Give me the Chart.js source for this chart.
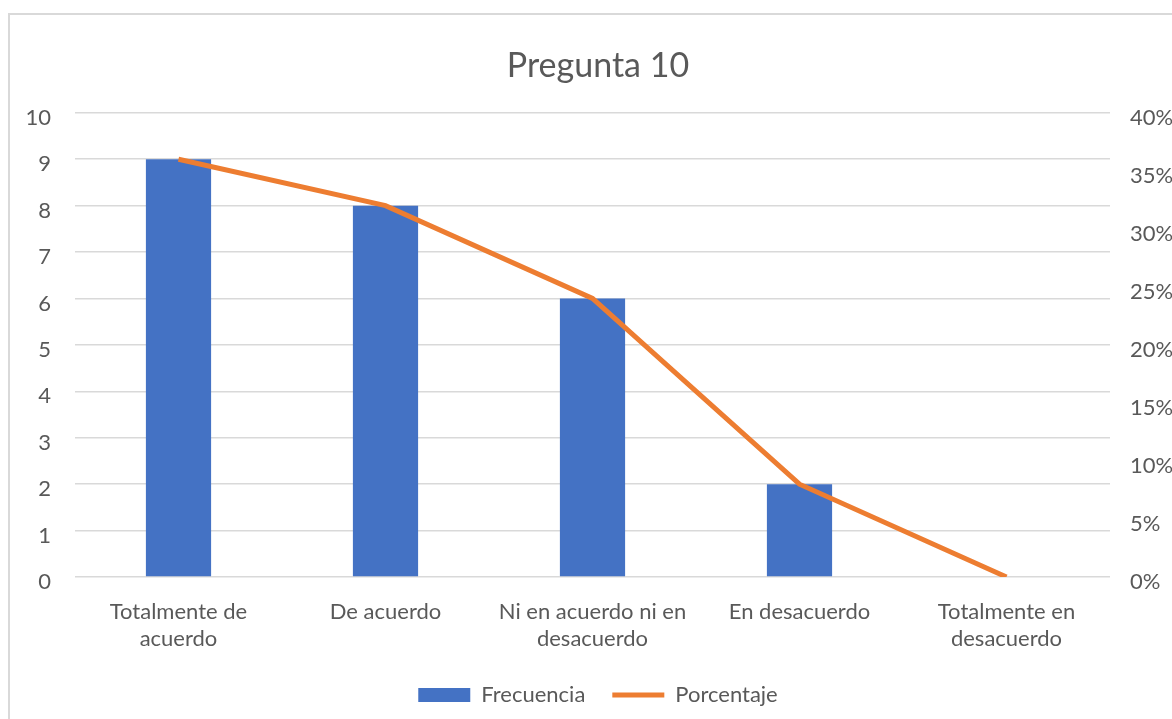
<!DOCTYPE html>
<html>
<head>
<meta charset="utf-8">
<script src="https://cdn.jsdelivr.net/npm/chart.js@4.4.1/dist/chart.umd.min.js"></script>
<style>
  html, body { margin: 0; padding: 0; background: #ffffff; }
  #wrap { position: relative; width: 1172px; height: 719px; overflow: hidden; }
  #frame { position: absolute; left: 8px; top: 13px; width: 1200px; height: 800px;
           border-left: 2px solid #d9d9d9; border-top: 2px solid #d9d9d9; box-sizing: border-box; }
  #c { position: absolute; left: 0; top: 0; }
</style>
</head>
<body>
<div id="wrap">
  <div id="frame"></div>
  <canvas id="c" width="1172" height="719"></canvas>
</div>
<script>
// Survey answers for question 10
const categories = [
  ["Totalmente de", "acuerdo"],
  ["De acuerdo"],
  ["Ni en acuerdo ni en", "desacuerdo"],
  ["En desacuerdo"],
  ["Totalmente en", "desacuerdo"]
];
const frecuencia = [9, 8, 6, 2, 0];
const porcentaje = [36, 32, 24, 8, 0];   // share of 25 answers, in %
const countTicks = [0, 1, 2, 3, 4, 5, 6, 7, 8, 9, 10];
const percentTicks = [0, 5, 10, 15, 20, 25, 30, 35, 40];

const FONT = 'Lato, "Open Sans", sans-serif';
const TEXT = '#595959';
const GRID = '#d9d9d9';

new Chart(document.getElementById('c'), {
  data: {
    labels: categories,
    datasets: [
      {
        type: 'line',
        label: 'Porcentaje',
        data: porcentaje,
        yAxisID: 'yPct',
        borderColor: '#ED7D31',
        backgroundColor: '#ED7D31',
        borderWidth: 5,
        pointRadius: 0,
        pointHoverRadius: 0,
        tension: 0,
        pointStyle: 'line',
        order: 0
      },
      {
        type: 'bar',
        label: 'Frecuencia',
        data: frecuencia,
        yAxisID: 'y',
        backgroundColor: '#4472C4',
        borderWidth: 0,
        barPercentage: 0.315,
        categoryPercentage: 1,
        pointStyle: 'rect',
        order: 1
      }
    ]
  },
  options: {
    responsive: false,
    animation: false,
    layout: { padding: { top: 46, left: 24, right: 0, bottom: 3 } },
    plugins: {
      tooltip: { enabled: false },
      title: {
        display: true,
        text: 'Pregunta 10',
        color: TEXT,
        font: { family: FONT, size: 34, weight: 'normal', lineHeight: 1.2 },
        padding: { top: 0, bottom: 26 }
      },
      legend: {
        position: 'bottom',
        reverse: true,
        labels: {
          usePointStyle: true,
          pointStyleWidth: 52,
          boxWidth: 52,
          boxHeight: 14,
          padding: 27,
          color: TEXT,
          font: { family: FONT, size: 22 }
        }
      }
    },
    scales: {
      x: {
        // category labels sit 22px below the plot; reserve room for two lines
        afterFit: (s) => { s.height = 80; },
        grid: { display: false, drawTicks: false },
        border: { display: false },
        ticks: {
          color: TEXT,
          padding: 22,
          maxRotation: 0,
          autoSkip: false,
          font: { family: FONT, size: 22, lineHeight: 1.2 }
        }
      },
      y: {
        position: 'left',
        min: 0,
        max: 10,
        afterBuildTicks: (s) => { s.ticks = countTicks.map(v => ({ value: v })); },
        afterFit: (s) => { s.width = 51; },
        grid: { color: GRID, lineWidth: 1.5, drawTicks: false },
        border: { display: false },
        ticks: {
          color: TEXT,
          padding: 24,
          labelOffset: 5,
          font: { family: FONT, size: 22 }
        }
      },
      yPct: {
        position: 'right',
        min: 0,
        max: 40,
        afterBuildTicks: (s) => { s.ticks = percentTicks.map(v => ({ value: v })); },
        afterFit: (s) => { s.width = 62; },
        grid: { display: false, drawTicks: false },
        border: { display: false },
        ticks: {
          color: TEXT,
          padding: 20,
          labelOffset: 5,
          callback: (v) => v + '%',
          font: { family: FONT, size: 22 }
        }
      }
    }
  }
});
</script>
</body>
</html>
